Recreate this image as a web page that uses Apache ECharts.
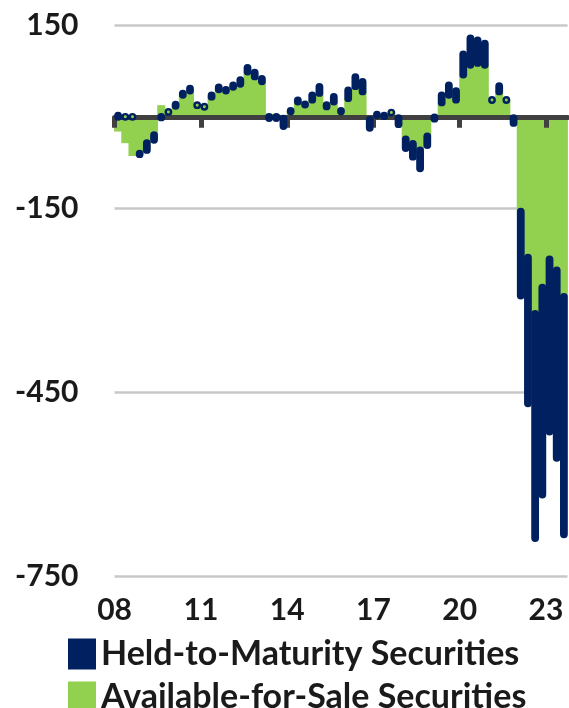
<!DOCTYPE html>
<html>
<head>
<meta charset="utf-8">
<script src="https://cdn.jsdelivr.net/npm/echarts@6/dist/echarts.min.js"></script>
<style>
html, body { margin: 0; padding: 0; background: #fff; }
#chart { width: 569px; height: 708px; }
</style>
</head>
<body>
<div id="chart"></div>
<script>
// quarterly, 2008Q1 .. 2023Q3 (bn)
var years = ['08','09','10','11','12','13','14','15','16','17','18','19','20','21','22','23'];
var afs = [-24, -43, -64, -60, -43, -30, 19, 8,
    18, 36, 43, 19, 16.5, 33, 45, 43,
    49, 54, 74, 66, 58, 5, 4, -3,
    9, 25, 20, 28, 39, 17, 25, 9,
    30.5, 50, 41.5, -5, 3, 1, 7, -2,
    -37, -44, -55, -32, -1, 23.5, 36, 28,
    69, 85, 88, 85, 27.5, 41.5, 27.5, -2,
    -155, -230, -322, -279, -233, -251, -294];
var htm = [2, 0, 0, -1, -11, -7.5, -1, 0,
    2, 2, 3, 0, 0, 2, 3, 1,
    2.5, 6, 6, 6, 4, -2, -2, -12,
    0.5, 2, 0.5, 7, 10, 2, 7.5, 0.5,
    12.5, 15, 15.5, -13, 0.5, 1, 0, -10,
    -14, -21, -29, -14, -2, 11.5, 15.5, 14,
    33, 43, 37, 34.5, 0, 8.5, 0, -8,
    -137, -238, -366, -338, -281, -306, -388];
var tickLabels = ['08', '11', '14', '17', '20', '23'];
var tickPos = [0, 12, 24, 36, 48, 60];

var NAVY = '#002060';
var GREEN = '#92d050';
var FONT = 'Lato';

var quarters = [];
years.forEach(function (y) {
    ['Q1', 'Q2', 'Q3', 'Q4'].forEach(function (q) { quarters.push(y + q); });
});
quarters = quarters.slice(0, afs.length);

var afsRows = afs.map(function (v, i) { return [i, 0, v]; });

// HTM sits on top of AFS when both have the same sign (stacked like Excel)
var htmRows = htm.map(function (h, i) {
    var base = (h < 0) === (afs[i] < 0) ? afs[i] : 0;
    return [i, base, base + h];
});

function renderAfs(params, api) {
    var p0 = api.coord([api.value(0), api.value(1)]);
    var p1 = api.coord([api.value(0), api.value(2)]);
    var w = api.size([1, 0])[0];
    // small overlap so neighbouring columns read as one filled area
    return {
        type: 'rect',
        shape: { x: p0[0] - w / 2 - 0.4, y: Math.min(p0[1], p1[1]), width: w + 0.8, height: Math.abs(p1[1] - p0[1]) },
        style: { fill: GREEN }
    };
}

function renderHtm(params, api) {
    var i = api.value(0);
    var base = api.value(1), total = api.value(2);
    var p0 = api.coord([i, base]);
    var p1 = api.coord([i, total]);
    var w = api.size([1, 0])[0] + 0.6;
    var r = w / 2;
    if (base === total) {
        return {
            type: 'circle',
            shape: { cx: p0[0], cy: p0[1], r: r - 1.2 },
            style: { fill: GREEN, stroke: NAVY, lineWidth: 2.4 }
        };
    }
    var top = Math.min(p0[1], p1[1]) - r;
    return {
        type: 'rect',
        shape: { x: p0[0] - r, y: top, width: w, height: Math.abs(p1[1] - p0[1]) + 2 * r, r: r },
        style: { fill: NAVY }
    };
}

var legendText = { fontFamily: FONT, fontSize: 34, fontWeight: 'bold', color: '#1a1a1a' };
var axisText = { fontFamily: FONT, fontSize: 30, fontWeight: 'bold', color: '#1a1a1a' };

var option = {
    backgroundColor: '#fff',
    animation: false,
    textStyle: { fontFamily: FONT },
    grid: { left: 114.5, right: 1.5, top: 25, bottom: 132 },
    legend: [{
        left: 63,
        top: 632,
        icon: 'rect',
        itemWidth: 28,
        itemHeight: 31,
        data: ['Held-to-Maturity Securities'],
        textStyle: legendText
    }, {
        left: 63,
        top: 675,
        icon: 'rect',
        itemWidth: 28,
        itemHeight: 31,
        data: ['Available-for-Sale Securities'],
        textStyle: legendText
    }],
    xAxis: [{
        type: 'category',
        data: quarters,
        position: 'bottom',
        boundaryGap: true,
        axisLine: { show: false, onZero: false },
        axisTick: { show: false },
        axisLabel: {
            interval: function (idx) { return idx % 12 === 0; },
            formatter: function (v, idx) {
                return '{t|' + tickLabels[tickPos.indexOf(idx)] + '}';
            },
            margin: 19,
            rich: { t: Object.assign({ padding: [0, 7, 0, 0] }, axisText) }
        },
        splitLine: { show: false }
    }, {
        type: 'value',
        min: 0,
        max: afs.length,
        position: 'top',
        z: 2,
        axisLine: { onZero: true, lineStyle: { color: '#404040', width: 5 } },
        axisTick: { inside: true, customValues: tickPos, length: 11, lineStyle: { color: '#404040', width: 5 } },
        axisLabel: { show: false },
        splitLine: { show: false }
    }],
    yAxis: {
        type: 'value',
        min: -750,
        max: 150,
        interval: 300,
        axisLine: { show: false },
        axisTick: { show: false },
        axisLabel: Object.assign({ margin: 36 }, axisText),
        splitLine: { lineStyle: { color: '#c8c8c8', width: 2.5 } }
    },
    series: [{
        name: 'Available-for-Sale Securities',
        type: 'custom',
        data: afsRows,
        encode: { x: 0, y: [1, 2] },
        renderItem: renderAfs,
        itemStyle: { color: GREEN },
        z: 1
    }, {
        name: 'Held-to-Maturity Securities',
        type: 'custom',
        data: htmRows,
        encode: { x: 0, y: [1, 2] },
        renderItem: renderHtm,
        itemStyle: { color: NAVY },
        z: 3
    }]
};

var myChart = echarts.init(document.getElementById('chart'));
myChart.setOption(option);
</script>
</body>
</html>
